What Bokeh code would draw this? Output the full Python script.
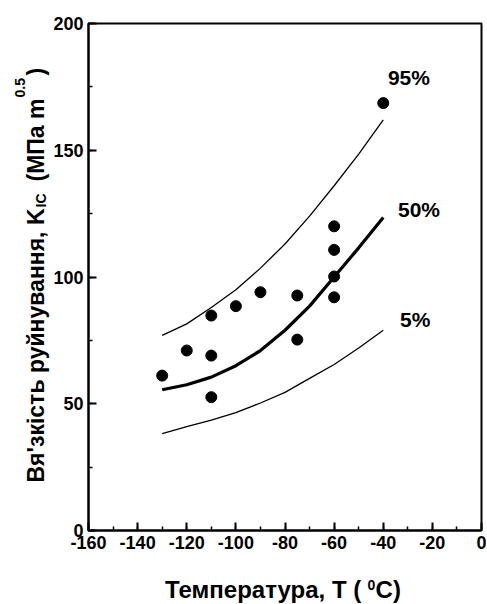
from bokeh.plotting import figure
from bokeh.models import Range1d, SingleIntervalTicker, Label, CustomJSTickFormatter
from bokeh.layouts import row, column
from bokeh.embed import file_html
from bokeh.resources import INLINE

# measured points
temps_points = [-130, -120, -110, -110, -110, -100, -90, -75, -75, -60, -60, -60, -60, -40]
kic_points = [61.1, 71.0, 84.8, 69.0, 52.6, 88.5, 94.0, 92.7, 75.3, 92.0, 100.2, 110.7, 120.0, 168.6]

# probability curves
curve_t = [-130, -120, -110, -100, -90, -80, -70, -60, -50, -40]
k95 = [77.0, 81.5, 88.0, 95.0, 103.5, 113.0, 124.0, 136.0, 148.5, 162.0]
k50 = [55.5, 57.5, 60.5, 65.0, 71.0, 79.0, 88.5, 100.0, 111.5, 123.5]
k05 = [38.2, 41.0, 43.5, 46.5, 50.3, 54.5, 60.0, 65.5, 72.0, 79.0]

curve_labels = ["95%", "50%", "5%"]

FONT = "Liberation Sans"
W_LEFT = 50      # width of the strip holding the y title
H_MAIN = 560
H_BOTTOM = 44
W_MAIN = 436
SHIFT = 0.4      # rendered baseline sits ~0.4 em below the anchor

# ---------- main plot ----------
p = figure(width=W_MAIN, height=H_MAIN, output_backend="svg", toolbar_location=None,
           x_range=Range1d(-160, 0), y_range=Range1d(0, 200),
           min_border_left=86 - W_LEFT, min_border_right=5, min_border_top=23,
           min_border_bottom=H_MAIN - 530)
p.background_fill_color = "white"
p.border_fill_color = "white"
p.outline_line_color = "black"
p.outline_line_width = 2
p.xgrid.visible = False
p.ygrid.visible = False

p.xaxis.ticker = SingleIntervalTicker(interval=20, num_minor_ticks=2)
p.yaxis.ticker = SingleIntervalTicker(interval=50, num_minor_ticks=2)
for ax in (p.xaxis, p.yaxis):
    ax.formatter = CustomJSTickFormatter(code="return tick.toFixed(0);")
    ax.axis_line_width = 2
    ax.axis_line_color = "black"
    ax.major_tick_in = 8
    ax.major_tick_out = 0
    ax.minor_tick_in = 4
    ax.minor_tick_out = 0
    ax.major_tick_line_width = 2
    ax.minor_tick_line_width = 1.5
    ax.major_label_text_font = FONT
    ax.major_label_text_font_style = "bold"
    ax.major_label_text_font_size = "18px"
    ax.major_label_text_color = "black"
    ax.major_label_standoff = 5
    ax.axis_label = None

p.line(curve_t, k95, line_color="black", line_width=1.3)
p.line(curve_t, k50, line_color="black", line_width=3.2)
p.line(curve_t, k05, line_color="black", line_width=1.3)
p.scatter(temps_points, kic_points, size=11, marker="circle", fill_color="black", line_color="black")

PX_PER_UNIT_Y = 507 / 200
for txt, (lx, ly) in zip(curve_labels, [(-38.1, 175.5), (-34.0, 123.5), (-33.2, 80.1)]):
    p.add_layout(Label(x=lx, y=ly + SHIFT * 21 / PX_PER_UNIT_Y, text=txt, text_font=FONT,
                       text_font_style="bold", text_font_size="21px", text_color="black",
                       text_align="left", text_baseline="alphabetic"))


def text_strip(width, height, x0, y0):
    f = figure(width=width, height=height, output_backend="svg", toolbar_location=None,
               x_range=Range1d(x0, x0 + width), y_range=Range1d(y0, y0 + height),
               min_border=0, x_axis_location=None, y_axis_location=None)
    f.outline_line_color = None
    f.xgrid.visible = False
    f.ygrid.visible = False
    f.background_fill_color = "white"
    f.border_fill_color = "white"
    return f


def lab(fig, x, y, text, size, align="left", angle=0):
    # x, y give the wanted baseline position (page x, 604 - page y)
    if angle == 90:
        x = x - SHIFT * size
    else:
        y = y + SHIFT * size
    fig.add_layout(Label(x=x, y=y, text=text, text_font=FONT, text_font_style="bold",
                         text_font_size=f"{size}px", text_color="black", text_align=align,
                         text_baseline="alphabetic", angle=angle, angle_units="deg"))


# ---------- y title strip ----------
ystrip = text_strip(W_LEFT, H_MAIN + H_BOTTOM, 0, 0)
lab(ystrip, 44.5, 604 - 208, "Вя'зкість руйнування, K", 23, align="right", angle=90)
lab(ystrip, 46.5, 604 - 207, "IC", 14, angle=90)
lab(ystrip, 44.5, 604 - 98, "(МПа m", 23, align="right", angle=90)
lab(ystrip, 25, 604 - 97, "0.5", 14, angle=90)
lab(ystrip, 44.5, 604 - 75, ")", 23, angle=90)

# ---------- x title strip ----------
xstrip = text_strip(W_MAIN, H_BOTTOM, W_LEFT, 0)
lab(xstrip, 360, 604 - 598.5, "Температура, T  (", 24, align="right")
lab(xstrip, 359.5, 604 - 590, "0", 14)
lab(xstrip, 368.5, 604 - 598.5, "C)", 24)

layout = row(ystrip, column(p, xstrip))
open("out.html", "w").write(file_html(layout, INLINE))
